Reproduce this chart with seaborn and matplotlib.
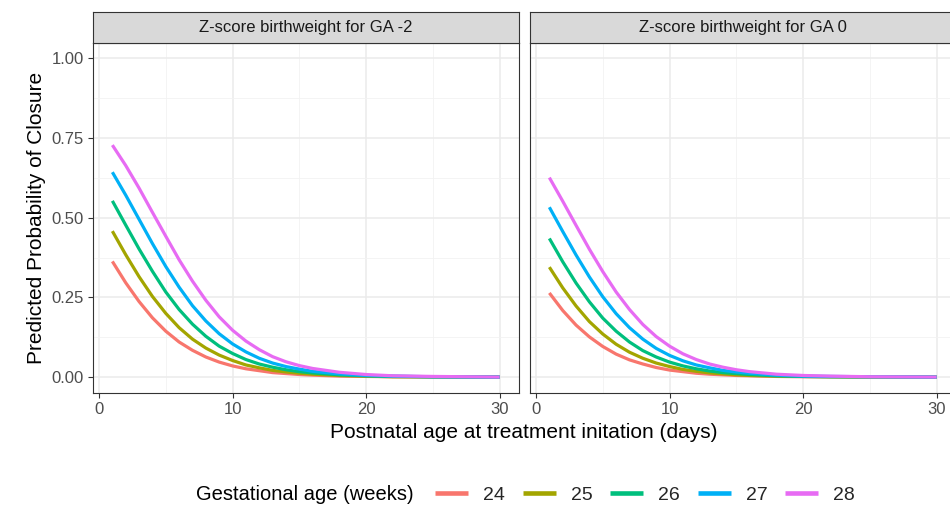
import matplotlib
matplotlib.use("Agg")
import matplotlib.pyplot as plt
import seaborn as sns
import pandas as pd
from matplotlib.ticker import MultipleLocator, FormatStrFormatter


days = [1, 2, 3, 4, 5, 6, 7, 8, 9, 10, 11, 12, 13, 14, 15, 16, 18, 20, 22, 25, 30]
ga_weeks = ['24', '25', '26', '27', '28']
panel_titles = ['Z-score birthweight for GA -2', 'Z-score birthweight for GA 0']

# Z-score -2 panel
zm2_ga24 = [0.363, 0.296, 0.237, 0.186, 0.144, 0.110, 0.084, 0.063, 0.047, 0.035, 0.026,
            0.020, 0.014, 0.011, 0.008, 0.006, 0.003, 0.002, 0.001, 0.000, 0.000]
zm2_ga25 = [0.458, 0.384, 0.315, 0.253, 0.200, 0.155, 0.119, 0.091, 0.069, 0.052, 0.038,
            0.029, 0.021, 0.016, 0.012, 0.009, 0.005, 0.003, 0.001, 0.001, 0.000]
zm2_ga26 = [0.553, 0.477, 0.402, 0.332, 0.267, 0.212, 0.166, 0.128, 0.097, 0.074, 0.055,
            0.041, 0.031, 0.023, 0.017, 0.013, 0.007, 0.004, 0.002, 0.001, 0.000]
zm2_ga27 = [0.643, 0.571, 0.495, 0.419, 0.347, 0.282, 0.224, 0.176, 0.136, 0.104, 0.079,
            0.059, 0.044, 0.033, 0.025, 0.018, 0.010, 0.005, 0.003, 0.001, 0.000]
zm2_ga28 = [0.728, 0.664, 0.593, 0.517, 0.442, 0.368, 0.301, 0.241, 0.189, 0.147, 0.113,
            0.086, 0.064, 0.048, 0.036, 0.027, 0.015, 0.008, 0.004, 0.002, 0.000]

# Z-score 0 panel
z0_ga24 = [0.264, 0.209, 0.163, 0.126, 0.096, 0.072, 0.054, 0.041, 0.030, 0.022, 0.017,
           0.012, 0.009, 0.007, 0.005, 0.004, 0.002, 0.001, 0.001, 0.000, 0.000]
z0_ga25 = [0.345, 0.280, 0.223, 0.174, 0.135, 0.103, 0.078, 0.059, 0.044, 0.033, 0.024,
           0.018, 0.013, 0.010, 0.007, 0.005, 0.003, 0.002, 0.001, 0.000, 0.000]
z0_ga26 = [0.435, 0.362, 0.295, 0.236, 0.185, 0.144, 0.110, 0.083, 0.063, 0.047, 0.035,
           0.026, 0.019, 0.014, 0.011, 0.008, 0.004, 0.002, 0.001, 0.001, 0.000]
z0_ga27 = [0.533, 0.457, 0.383, 0.314, 0.252, 0.199, 0.155, 0.119, 0.090, 0.068, 0.051,
           0.038, 0.029, 0.021, 0.016, 0.012, 0.006, 0.003, 0.002, 0.001, 0.000]
z0_ga28 = [0.626, 0.552, 0.476, 0.401, 0.331, 0.267, 0.212, 0.165, 0.127, 0.097, 0.073,
           0.055, 0.041, 0.031, 0.023, 0.017, 0.009, 0.005, 0.003, 0.001, 0.000]

colors = ['#F8766D', '#A3A500', '#00BF7D', '#00B0F6', '#E76BF3']

rows = []
for title, series in zip(panel_titles, [[zm2_ga24, zm2_ga25, zm2_ga26, zm2_ga27, zm2_ga28],
                                        [z0_ga24, z0_ga25, z0_ga26, z0_ga27, z0_ga28]]):
    for ga, vals in zip(ga_weeks, series):
        for d, p in zip(days, vals):
            rows.append({'panel': title, 'ga': ga, 'day': d, 'prob': p})
df = pd.DataFrame(rows)

sns.set_theme(style='white')
plt.rcParams['font.family'] = ['Liberation Sans', 'DejaVu Sans']

W, H = 950, 507
fig = plt.figure(figsize=(W / 100, H / 100), dpi=100)


def px_box(x0, y0, x1, y1):
    return [x0 / W, 1 - y1 / H, (x1 - x0) / W, (y1 - y0) / H]


handles, labels = None, None
for i, title in enumerate(panel_titles):
    x0 = 93 + i * 437
    ax = fig.add_axes(px_box(x0, 42.5, x0 + 426, 393))
    sns.lineplot(data=df[df.panel == title], x='day', y='prob', hue='ga',
                 hue_order=ga_weeks, palette=colors, linewidth=2.3, ax=ax,
                 legend=(i == 0), solid_capstyle='butt')
    if i == 0:
        handles, labels = ax.get_legend_handles_labels()
        ax.get_legend().remove()
    ax.set_xlim(-0.45, 31.45)
    ax.set_ylim(-0.05, 1.05)
    ax.xaxis.set_major_locator(MultipleLocator(10))
    ax.xaxis.set_minor_locator(MultipleLocator(5))
    ax.yaxis.set_major_locator(MultipleLocator(0.25))
    ax.yaxis.set_minor_locator(MultipleLocator(0.125))
    ax.yaxis.set_major_formatter(FormatStrFormatter('%.2f'))
    ax.grid(which='major', color='#EBEBEB', lw=1.1)
    ax.grid(which='minor', color='#F2F2F2', lw=0.6)
    ax.set_axisbelow(True)
    for s in ax.spines.values():
        s.set_color('#333333')
        s.set_linewidth(0.8)
    ax.tick_params(which='major', bottom=True, left=(i == 0), length=3.5, width=0.8,
                   color='#333333', labelcolor='#4D4D4D', labelsize=12, pad=3.2)
    ax.tick_params(which='minor', bottom=False, left=False)
    if i > 0:
        ax.tick_params(labelleft=False)
    ax.set_xlabel('')
    ax.set_ylabel('')

    strip = fig.add_axes(px_box(x0, 11.7, x0 + 426, 42.5))
    strip.set_facecolor('#D9D9D9')
    strip.set_xticks([])
    strip.set_yticks([])
    for s in strip.spines.values():
        s.set_color('#333333')
        s.set_linewidth(0.8)
    strip.text(0.5, 0.5, title, ha='center', va='center', fontsize=12,
               color='#1A1A1A', transform=strip.transAxes)

fig.text(36.5 / W, 1 - 218 / H, 'Predicted Probability of Closure', rotation=90,
         ha='center', va='center', fontsize=15, color='black')
fig.text(524 / W, 1 - 433 / H, 'Postnatal age at treatment initation (days)',
         ha='center', va='center', fontsize=15, color='black')

fig.text(196 / W, 1 - 495 / H, 'Gestational age (weeks)', ha='left', va='center',
         fontsize=14.5, color='black')
leg = fig.legend(handles, labels, loc='center left', bbox_to_anchor=(435 / W, 1 - 495 / H),
                 ncol=5, frameon=False, fontsize=14, handlelength=1.7,
                 handletextpad=0.78, columnspacing=0.9, borderaxespad=0, borderpad=0)
for line in leg.get_lines():
    line.set_linewidth(3.3)
    line.set_solid_capstyle('butt')

fig.savefig('out.png', dpi=100)
